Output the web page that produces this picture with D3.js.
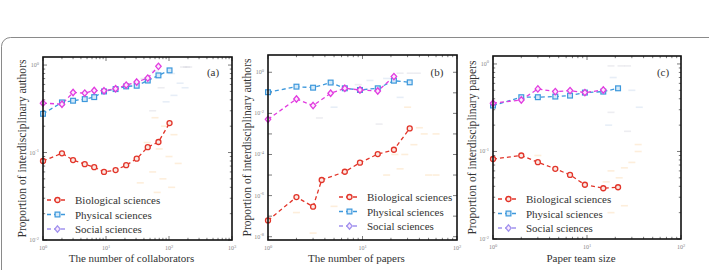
<!DOCTYPE html>
<html>
<head>
<meta charset="utf-8">
<script src="https://cdn.jsdelivr.net/npm/d3@7"></script>
<style>
  body { margin: 0; background: #fff; }
</style>
</head>
<body>
<svg id="root" width="709" height="270" font-family="'Liberation Serif', 'DejaVu Serif', serif"></svg>
<script>
// ---- data ----
const seriesNames = ["Biological sciences", "Physical sciences", "Social sciences"];

// (a) proportion of interdisciplinary authors vs number of collaborators
const bioA_x = [1, 2, 3, 4.6, 6.5, 9.3, 14.2, 20.9, 30.7, 46, 68, 102];
const bioA_y = [0.080, 0.098, 0.082, 0.0735, 0.068, 0.060, 0.063, 0.0716, 0.085, 0.115, 0.132, 0.217];
const phyA_x = [1, 2, 3, 4.6, 6.5, 9.3, 14.2, 20.9, 30.7, 46, 68, 102];
const phyA_y = [0.277, 0.374, 0.391, 0.408, 0.430, 0.499, 0.531, 0.570, 0.580, 0.665, 0.762, 0.869];
const socA_x = [1, 2, 3, 4.6, 6.5, 9.3, 14.2, 20.9, 30.7, 46, 68];
const socA_y = [0.367, 0.357, 0.486, 0.478, 0.512, 0.508, 0.536, 0.590, 0.639, 0.709, 0.966];

// (b) proportion of interdisciplinary authors vs number of papers (log10 values)
const bioB_x = [1, 2, 3, 3.7, 6.5, 9.4, 14.5, 21.5, 31.6];
const bioB_exp = [-7.21, -6.07, -6.54, -5.24, -4.84, -4.40, -3.98, -3.77, -2.73];
const phyB_x = [1, 2, 3, 4.6, 6.5, 9.4, 14.5, 21.5, 31.6];
const phyB_exp = [-0.97, -0.70, -0.75, -0.50, -0.78, -0.86, -0.78, -0.41, -0.49];
const socB_x = [1, 2, 3, 4.6, 6.5, 9.4, 14.5, 21.5];
const socB_exp = [-2.29, -1.30, -1.62, -1.02, -0.78, -0.86, -0.91, -0.21];

// (c) proportion of interdisciplinary papers vs paper team size
const bioC_x = [1, 2, 3, 4.6, 6.6, 9.5, 14.9, 21.4];
const bioC_y = [0.082, 0.090, 0.0755, 0.0634, 0.054, 0.0417, 0.038, 0.039];
const phyC_x = [1, 2, 3, 4.6, 6.6, 9.5, 14.9, 21.4];
const phyC_y = [0.335, 0.417, 0.417, 0.424, 0.435, 0.471, 0.483, 0.527];
const socC_x = [1, 2, 3, 4.6, 6.6, 9.5, 14.9];
const socC_y = [0.356, 0.388, 0.519, 0.483, 0.496, 0.471, 0.505];

// faint background individual-level points: [x, y, series]
const cloudA = [[170, 0.95, 2], [190, 0.95, 2], [205, 0.95, 2], [60, 0.85, 1], [110, 0.8, 1], [150, 0.62, 1],
  [180, 0.55, 1], [75, 0.55, 2], [120, 0.45, 1], [40, 0.7, 2], [90, 0.38, 1], [55, 0.3, 2],
  [60, 0.25, 0], [85, 0.2, 0], [120, 0.16, 0], [45, 0.13, 0], [70, 0.11, 0], [100, 0.09, 0],
  [140, 0.075, 0], [55, 0.06, 0], [80, 0.05, 0], [35, 0.045, 0], [110, 0.04, 0], [65, 0.035, 0]];
const cloudB = [[25, 0.9, 2], [32, 0.9, 2], [38, 0.9, 2], [12, 0.4, 1], [18, 0.5, 1], [25, 0.06, 1],
  [9, 0.25, 2], [3.5, 0.006, 2], [5, 0.02, 1], [15, 0.003, 2], [30, 0.02, 0], [40, 0.002, 0],
  [45, 1e-3, 0], [60, 1e-3, 0], [28, 1e-4, 0], [35, 3e-4, 0], [22, 1e-4, 0], [50, 1e-5, 0],
  [60, 1e-5, 0], [18, 1e-5, 0], [2, 1.5e-7, 0], [3, 1.5e-8, 0], [5, 3e-7, 0], [25, 2e-5, 0]];
const cloudC = [[18, 0.95, 2], [23, 0.95, 2], [27, 0.95, 2], [19, 0.7, 1], [30, 0.5, 1], [36, 0.32, 1],
  [18, 0.28, 2], [17, 0.2, 1], [27, 0.17, 2], [35, 0.12, 0], [35, 0.1, 0], [30, 0.075, 0],
  [25, 0.065, 0], [18, 0.06, 0], [22, 0.05, 0], [16, 0.045, 0], [25, 0.024, 0], [18, 0.02, 0], [3, 0.09, 0]];

const panelTags = ["(a)", "(b)", "(c)"];
const xTitles = ["The number of collaborators", "The number of papers", "Paper team size"];
const yTitles = ["Proportion of interdisciplinary authors", "Proportion of interdisciplinary authors", "Proportion of interdisciplinary papers"];
const xTickExps = [[0, 1, 2, 3], [0, 1, 2], [0, 1, 2]];
const yTickExps = [[-2, -1, 0], [-8, -6, -4, -2, 0], [-2, -1, 0]];

const pow10 = e => Math.pow(10, e);
const zip = (xs, ys) => xs.map((x, i) => ({x: x, y: ys[i]}));

const panels = [
  {
    box: {x0: 43, x1: 232, y0: 57, y1: 240},
    xDom: [1, 1000], yDom: [0.01, pow10(0.092)],
    series: [zip(bioA_x, bioA_y), zip(phyA_x, phyA_y), zip(socA_x, socA_y)],
    cloud: cloudA,
    legend: {x: 47, y: 200},
    tag: {x: 213, y: 76}
  },
  {
    box: {x0: 268, x1: 457, y0: 55, y1: 240},
    xDom: [1, 100], yDom: [pow10(-8.16), pow10(0.84)],
    series: [zip(bioB_x, bioB_exp.map(pow10)), zip(phyB_x, phyB_exp.map(pow10)), zip(socB_x, socB_exp.map(pow10))],
    cloud: cloudB,
    legend: {x: 339, y: 197},
    tag: {x: 437, y: 76},
    coarseY: true
  },
  {
    box: {x0: 493, x1: 681, y0: 56, y1: 239},
    xDom: [1, 100], yDom: [0.01, pow10(0.091)],
    series: [zip(bioC_x, bioC_y), zip(phyC_x, phyC_y), zip(socC_x, socC_y)],
    cloud: cloudC,
    legend: {x: 498, y: 199},
    tag: {x: 663, y: 76}
  }
];

const lineColors = ["#e2352a", "#3d98dc", "#e23ce0"];
const markFill = ["#fbe9e4", "#d6eaf8", "#fde8fd"];
const legendColors = ["#e2352a", "#3d98dc", "#a193ee"];
const cloudColors = ["#fbd9b0", "#c9d9ee", "#d8d8e0"];
const textColor = "#333";

const svg = d3.select("#root");

// card outline
svg.append("rect")
  .attr("x", 1.5).attr("y", 37.5)
  .attr("width", 740).attr("height", 300)
  .attr("rx", 9)
  .attr("fill", "none").attr("stroke", "#8a8a8a").attr("stroke-width", 1);

function marker(g, type, cx, cy, color, fill) {
  if (type === 0) {
    g.append("circle").attr("cx", cx).attr("cy", cy).attr("r", 2.5)
      .attr("fill", fill).attr("stroke", color).attr("stroke-width", 1.3);
  } else if (type === 1) {
    g.append("rect").attr("x", cx - 2.4).attr("y", cy - 2.4).attr("width", 4.8).attr("height", 4.8)
      .attr("fill", fill).attr("stroke", color).attr("stroke-width", 1.2);
  } else {
    const r = 3.2;
    g.append("path").attr("d", `M0,${-r}L${r * 0.85},0L0,${r}L${-r * 0.85},0Z`)
      .attr("transform", `translate(${cx},${cy})`)
      .attr("fill", fill).attr("stroke", color).attr("stroke-width", 1.3);
  }
}

function sup(textSel, exp) {
  textSel.append("tspan").text("10");
  textSel.append("tspan").attr("dy", -2.5).attr("font-size", 4.5).text(exp);
}

panels.forEach((p, pi) => {
  const b = p.box;
  const x = d3.scaleLog().domain(p.xDom).range([b.x0, b.x1]);
  const y = d3.scaleLog().domain(p.yDom).range([b.y1, b.y0]);
  const g = svg.append("g");

  // faint background points
  g.selectAll("rect.cloud").data(p.cloud).join("rect")
    .attr("class", "cloud")
    .attr("x", d => x(d[0]) - 3.5).attr("y", d => y(d[1]) - 0.8)
    .attr("width", 7).attr("height", 1.6)
    .attr("fill", d => cloudColors[d[2]]).attr("opacity", 0.45);

  // minor / major ticks inside the box, on all four sides
  const xt = [];
  for (let e = Math.log10(p.xDom[0]); e < Math.log10(p.xDom[1]); e++) {
    for (let m = 1; m < 10; m++) xt.push({v: m * pow10(e), major: m === 1});
  }
  xt.push({v: p.xDom[1], major: true});
  xt.forEach(t => {
    const px = x(t.v), len = t.major ? 4 : 2.2;
    g.append("line").attr("x1", px).attr("x2", px).attr("y1", b.y1).attr("y2", b.y1 - len)
      .attr("stroke", "#222").attr("stroke-width", 0.6);
    g.append("line").attr("x1", px).attr("x2", px).attr("y1", b.y0).attr("y2", b.y0 + len)
      .attr("stroke", "#222").attr("stroke-width", 0.6);
  });
  const yt = [];
  const ylo = Math.ceil(Math.log10(p.yDom[0])), yhi = Math.floor(Math.log10(p.yDom[1]));
  for (let e = ylo; e <= yhi; e++) {
    yt.push({v: pow10(e), major: true});
    if (!p.coarseY) for (let m = 2; m < 10; m++) if (m * pow10(e) < p.yDom[1]) yt.push({v: m * pow10(e), major: false});
  }
  yt.forEach(t => {
    const py = y(t.v), len = t.major ? 4 : 2.2;
    g.append("line").attr("x1", b.x0).attr("x2", b.x0 + len).attr("y1", py).attr("y2", py)
      .attr("stroke", "#222").attr("stroke-width", 0.6);
    g.append("line").attr("x1", b.x1).attr("x2", b.x1 - len).attr("y1", py).attr("y2", py)
      .attr("stroke", "#222").attr("stroke-width", 0.6);
  });

  // tick labels
  xTickExps[pi].forEach(e => {
    const t = g.append("text").attr("x", x(pow10(e))).attr("y", b.y1 + 10)
      .attr("text-anchor", "middle").attr("font-size", 6).attr("fill", "#888");
    sup(t, e);
  });
  yTickExps[pi].forEach(e => {
    const t = g.append("text").attr("x", b.x0 - 4).attr("y", y(pow10(e)) + 2)
      .attr("text-anchor", "end").attr("font-size", 6).attr("fill", "#888");
    sup(t, e);
  });

  // series
  const line = d3.line().x(d => x(d.x)).y(d => y(d.y));
  p.series.forEach((s, si) => {
    g.append("path").attr("d", line(s)).attr("fill", "none")
      .attr("stroke", lineColors[si]).attr("stroke-width", 1.3)
      .attr("stroke-dasharray", "4,3");
  });
  p.series.forEach((s, si) => {
    s.forEach(d => marker(g, si, x(d.x), y(d.y), lineColors[si], markFill[si]));
  });

  // frame
  g.append("rect").attr("x", b.x0).attr("y", b.y0)
    .attr("width", b.x1 - b.x0).attr("height", b.y1 - b.y0)
    .attr("fill", "none").attr("stroke", "#111").attr("stroke-width", 1.6);

  // legend
  seriesNames.forEach((name, si) => {
    const ly = p.legend.y + si * 14.5;
    g.append("line").attr("x1", p.legend.x).attr("x2", p.legend.x + 21)
      .attr("y1", ly).attr("y2", ly)
      .attr("stroke", legendColors[si]).attr("stroke-width", 1.4).attr("stroke-dasharray", "4,3");
    marker(g, si, p.legend.x + 10.5, ly, legendColors[si], markFill[si]);
    g.append("text").attr("x", p.legend.x + 28).attr("y", ly + 4)
      .attr("font-size", 11).attr("fill", textColor).text(name);
  });

  // panel tag
  g.append("text").attr("x", p.tag.x).attr("y", p.tag.y)
    .attr("text-anchor", "middle").attr("font-size", 11).attr("fill", textColor).text(panelTags[pi]);

  // axis titles
  g.append("text").attr("x", (b.x0 + b.x1) / 2 - 6).attr("y", 262)
    .attr("text-anchor", "middle").attr("font-size", 11).attr("fill", textColor).text(xTitles[pi]);
  g.append("text")
    .attr("transform", `translate(${b.x0 - 17},${(b.y0 + b.y1) / 2}) rotate(-90)`)
    .attr("text-anchor", "middle").attr("font-size", 11.6).attr("fill", textColor).text(yTitles[pi]);
});
</script>
</body>
</html>
